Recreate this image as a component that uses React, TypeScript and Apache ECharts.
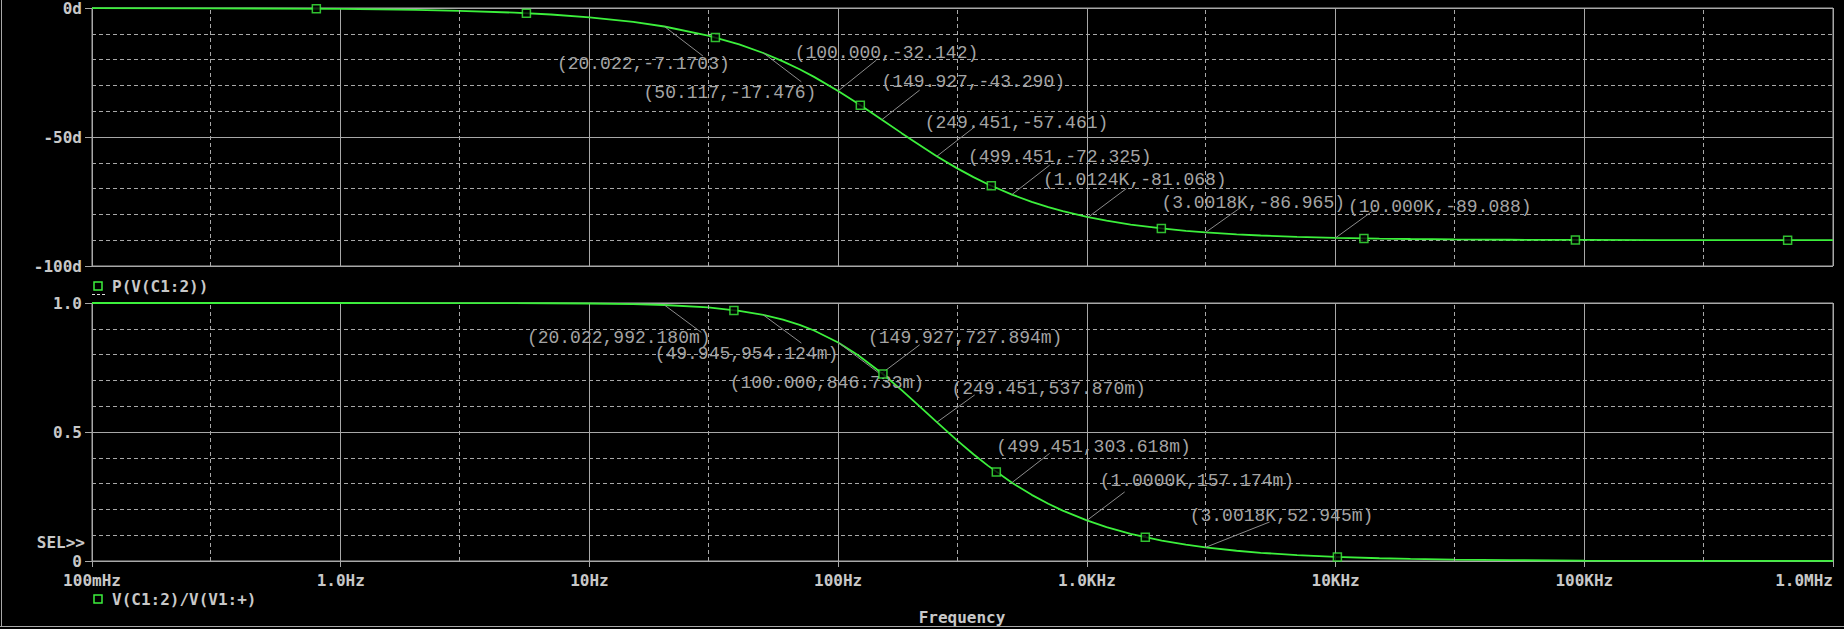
import React, { useEffect, useRef } from "react";
import * as echarts from "echarts";

// ---- data ----
const freqs = [
  0.1, 0.3, 1, 2, 3, 5, 7, 10, 15, 20, 30, 40, 50, 60, 70, 80, 100, 120, 150, 180, 200, 250, 300, 350, 400,
  500, 600, 700, 800, 1000, 1200, 1500, 2000, 2500, 3000, 4000, 5000, 7000, 10000, 15000, 20000, 30000,
  50000, 100000, 200000, 1000000,
];
const phaseDeg = [
  -0.04, -0.11, -0.36, -0.72, -1.08, -1.8, -2.52, -3.6, -5.38, -7.17, -10.67, -14.11, -17.45, -20.68, -23.74,
  -26.69, -32.14, -37.0, -43.28, -48.5, -51.47, -57.52, -62.06, -65.56, -68.32, -72.33, -75.14, -77.19, -78.75,
  -80.95, -82.44, -83.94, -85.45, -86.36, -86.96, -87.72, -88.18, -88.7, -89.09, -89.39, -89.54, -89.7, -89.82,
  -89.91, -89.95, -89.99,
];
const gain = [
  1.0, 1.0, 1.0, 0.9999, 0.9998, 0.9995, 0.999, 0.998, 0.9956, 0.9922, 0.9827, 0.9698, 0.954, 0.9357, 0.9154,
  0.8935, 0.8467, 0.7985, 0.7277, 0.6624, 0.6226, 0.537, 0.4686, 0.4139, 0.3697, 0.3032, 0.2564, 0.2218, 0.1951,
  0.1572, 0.1315, 0.1055, 0.0793, 0.0635, 0.053, 0.0398, 0.0318, 0.0227, 0.0159, 0.0106, 0.008, 0.0053, 0.0032,
  0.0016, 0.0008, 0.0002,
];

const phaseMarkerFreqs = [0.798, 5.58, 32.1, 122.8, 413, 1993, 13000, 92100, 657000];
const phaseMarkerVals = [-0.29, -2.01, -11.4, -37.66, -68.93, -85.43, -89.3, -89.9, -89.99];
const gainMarkerFreqs = [38.1, 151.4, 432.5, 1718, 10170];
const gainMarkerVals = [0.971, 0.725, 0.345, 0.0922, 0.0156];

const phaseNoteFreqs = [20.022, 50.117, 100.0, 149.927, 249.451, 499.451, 1012.4, 3001.8, 10000];
const phaseNoteVals = [-7.1703, -17.476, -32.142, -43.29, -57.461, -72.325, -81.068, -86.965, -89.088];
const phaseNoteTexts = [
  "(20.022,-7.1703)", "(50.117,-17.476)", "(100.000,-32.142)", "(149.927,-43.290)", "(249.451,-57.461)",
  "(499.451,-72.325)", "(1.0124K,-81.068)", "(3.0018K,-86.965)", "(10.000K,-89.088)",
];
const gainNoteFreqs = [20.022, 49.945, 100.0, 149.927, 249.451, 499.451, 1000.0, 3001.8];
const gainNoteVals = [0.99218, 0.954124, 0.846733, 0.727894, 0.53787, 0.303618, 0.157174, 0.052945];
const gainNoteTexts = [
  "(20.022,992.180m)", "(49.945,954.124m)", "(100.000,846.733m)", "(149.927,727.894m)", "(249.451,537.870m)",
  "(499.451,303.618m)", "(1.0000K,157.174m)", "(3.0018K,52.945m)",
];

const xTickLabels = ["100mHz", "1.0Hz", "10Hz", "100Hz", "1.0KHz", "10KHz", "100KHz", "1.0MHz"];
const minorFreqs = [0.3, 3, 30, 300, 3000, 30000, 300000];

// ---- layout / style (pixel offsets of the annotation labels: text dx, dy, leader end dx, dy) ----
const phaseNoteOffsets = [
  [-107.5, 38, 38.5, 29.5], [-120, 40.3, 37.8, 28.7], [-43.5, -37.5, 38.2, -30.8], [-0.5, -37.9, 37.8, -29.6],
  [-12.2, -32.8, 37.8, -29.4], [-43.9, -37.7, 37.8, -29.4], [-45.2, -36.9, 38.2, -28.6], [-44.2, -29.1, 35.8, -25.4],
  [12.4, -30.9, 38.1, -27.6],
];
const gainNoteOffsets = [
  [-137.5, 33, 36.9, 27.4], [-108.5, 38.9, 38.2, 28.2], [-108.5, 40.6, 40.5, 30.3], [-13.9, -35.7, 37.8, -28.4],
  [14.5, -33.3, 37.8, -27.3], [-15.5, -35.9, 37.8, -29.3], [12.8, -39.2, 37.8, -28.5], [-15.9, -31.1, 64.1, -25.4],
];

const GREEN = "#3cf03c";
const GRID = "#a8a8a8";
const LABEL = "#c8c8c8";
const NOTE = "#a4a4a4";
const MONO = "'DejaVu Sans Mono', monospace";
const NOTE_FONT = "18px 'Liberation Mono', 'DejaVu Sans Mono', monospace";

function xFormatter(v: number) {
  const idx = Math.round(Math.log10(v)) + 1;
  return xTickLabels[idx] ?? "";
}

function xAxisFor(gridIndex: number, showLabels: boolean) {
  return {
    type: "log",
    logBase: 10,
    min: 0.1,
    max: 1000000,
    gridIndex,
    axisLine: { show: showLabels, lineStyle: { color: GRID, width: 1 } },
    axisTick: { show: showLabels, length: 6, lineStyle: { color: GRID } },
    axisLabel: {
      show: showLabels,
      formatter: xFormatter,
      color: LABEL,
      fontFamily: MONO,
      fontWeight: "bold",
      fontSize: 16,
      margin: 11,
      showMinLabel: true,
      showMaxLabel: true,
      alignMaxLabel: "right",
    },
    splitLine: { show: true, lineStyle: { color: GRID, width: 1, type: "solid" } },
  };
}

function yAxisFor(gridIndex: number, min: number, max: number, interval: number, fmt: (v: number) => string) {
  return {
    type: "value",
    gridIndex,
    min,
    max,
    interval,
    axisLine: { show: true, lineStyle: { color: GRID, width: 1 } },
    axisTick: { show: true, length: 7, lineStyle: { color: GRID } },
    axisLabel: { formatter: fmt, color: LABEL, fontFamily: MONO, fontWeight: "bold", fontSize: 16, margin: 10 },
    splitLine: { show: true, lineStyle: { color: GRID, width: 1 } },
    minorTick: { show: false, splitNumber: 5 },
    minorSplitLine: { show: true, lineStyle: { color: GRID, width: 1, type: [4, 3] } },
  };
}

function noteSeries(axisIndex: number, fs: number[], vs: number[], texts: string[], offs: number[][]) {
  return {
    type: "custom",
    xAxisIndex: axisIndex,
    yAxisIndex: axisIndex,
    z: 4,
    silent: true,
    data: fs.map((f, i) => [f, vs[i], i]),
    encode: { x: 0, y: 1 },
    renderItem: (params: any, api: any) => {
      const i = api.value(2);
      const p = api.coord([api.value(0), api.value(1)]);
      const o = offs[i];
      return {
        type: "group",
        children: [
          {
            type: "line",
            shape: { x1: p[0], y1: p[1], x2: p[0] + o[2], y2: p[1] + o[3] },
            style: { stroke: "#8c8c8c", lineWidth: 1 },
          },
          {
            type: "text",
            x: p[0] + o[0],
            y: p[1] + o[1],
            style: { text: texts[i], fill: NOTE, font: NOTE_FONT, align: "left", verticalAlign: "middle" },
          },
        ],
      };
    },
  };
}

function dashedVerticals() {
  return {
    silent: true,
    symbol: "none",
    label: { show: false },
    lineStyle: { color: GRID, width: 1, type: [4, 3] },
    data: minorFreqs.map((f) => ({ xAxis: f })),
  };
}

export default function App() {
  const ref = useRef<HTMLDivElement>(null);
  useEffect(() => {
    if (!ref.current) return;
    const chart = echarts.init(ref.current, null, { renderer: "svg" });
    const option: any = {
      animation: false,
      backgroundColor: "#000000",
      textStyle: { fontFamily: MONO },
      grid: [
        { left: 92, top: 8, width: 1741, height: 258, show: true, borderColor: GRID, borderWidth: 1 },
        { left: 92, top: 303, width: 1741, height: 258, show: true, borderColor: GRID, borderWidth: 1 },
      ],
      xAxis: [xAxisFor(0, false), xAxisFor(1, true)],
      yAxis: [
        yAxisFor(0, -100, 0, 50, (v: number) => `${v}d`),
        yAxisFor(1, 0, 1, 0.5, (v: number) => (v === 0 ? "0" : v.toFixed(1))),
      ],
      series: [
        {
          type: "line",
          xAxisIndex: 0,
          yAxisIndex: 0,
          z: 3,
          data: freqs.map((f, i) => [f, phaseDeg[i]]),
          showSymbol: false,
          symbol: "none",
          lineStyle: { color: GREEN, width: 1.8 },
          markLine: dashedVerticals(),
        },
        {
          type: "line",
          xAxisIndex: 1,
          yAxisIndex: 1,
          z: 3,
          data: freqs.map((f, i) => [f, gain[i]]),
          showSymbol: false,
          symbol: "none",
          lineStyle: { color: GREEN, width: 1.8 },
          markLine: dashedVerticals(),
        },
        {
          type: "scatter",
          xAxisIndex: 0,
          yAxisIndex: 0,
          z: 5,
          symbol: "rect",
          symbolSize: 8,
          itemStyle: { color: "#000000", borderColor: GREEN, borderWidth: 1.5 },
          data: phaseMarkerFreqs.map((f, i) => [f, phaseMarkerVals[i]]),
        },
        {
          type: "scatter",
          xAxisIndex: 1,
          yAxisIndex: 1,
          z: 5,
          symbol: "rect",
          symbolSize: 8,
          itemStyle: { color: "#000000", borderColor: GREEN, borderWidth: 1.5 },
          data: gainMarkerFreqs.map((f, i) => [f, gainMarkerVals[i]]),
        },
        noteSeries(0, phaseNoteFreqs, phaseNoteVals, phaseNoteTexts, phaseNoteOffsets),
        noteSeries(1, gainNoteFreqs, gainNoteVals, gainNoteTexts, gainNoteOffsets),
      ],
      graphic: [
        { type: "line", shape: { x1: 1.5, y1: 0, x2: 1.5, y2: 626 }, style: { stroke: GRID, lineWidth: 1 } },
        { type: "line", shape: { x1: 0, y1: 626.5, x2: 1844, y2: 626.5 }, style: { stroke: GRID, lineWidth: 1 } },
        { type: "rect", shape: { x: 94, y: 282, width: 8, height: 8 }, style: { fill: "none", stroke: GREEN, lineWidth: 1.5 } },
        { type: "line", shape: { x1: 92, y1: 294.5, x2: 105, y2: 294.5 }, style: { stroke: "#e0e0e0", lineWidth: 1, lineDash: [3, 2] } },
        {
          type: "text",
          x: 112,
          y: 286,
          style: { text: "P(V(C1:2))", fill: LABEL, font: `bold 16px ${MONO}`, align: "left", verticalAlign: "middle" },
        },
        { type: "rect", shape: { x: 94, y: 595, width: 8, height: 8 }, style: { fill: "none", stroke: GREEN, lineWidth: 1.5 } },
        {
          type: "text",
          x: 112,
          y: 599,
          style: { text: "V(C1:2)/V(V1:+)", fill: LABEL, font: `bold 16px ${MONO}`, align: "left", verticalAlign: "middle" },
        },
        {
          type: "text",
          x: 85,
          y: 542,
          style: { text: "SEL>>", fill: LABEL, font: `bold 16px ${MONO}`, align: "right", verticalAlign: "middle" },
        },
        {
          type: "text",
          x: 962,
          y: 617,
          style: { text: "Frequency", fill: LABEL, font: `bold 16px ${MONO}`, align: "center", verticalAlign: "middle" },
        },
      ],
    };
    chart.setOption(option);
    return () => chart.dispose();
  }, []);
  return (
    <div
      ref={ref}
      style={{ position: "fixed", left: 0, top: 0, width: 1844, height: 629, background: "#000" }}
    />
  );
}
